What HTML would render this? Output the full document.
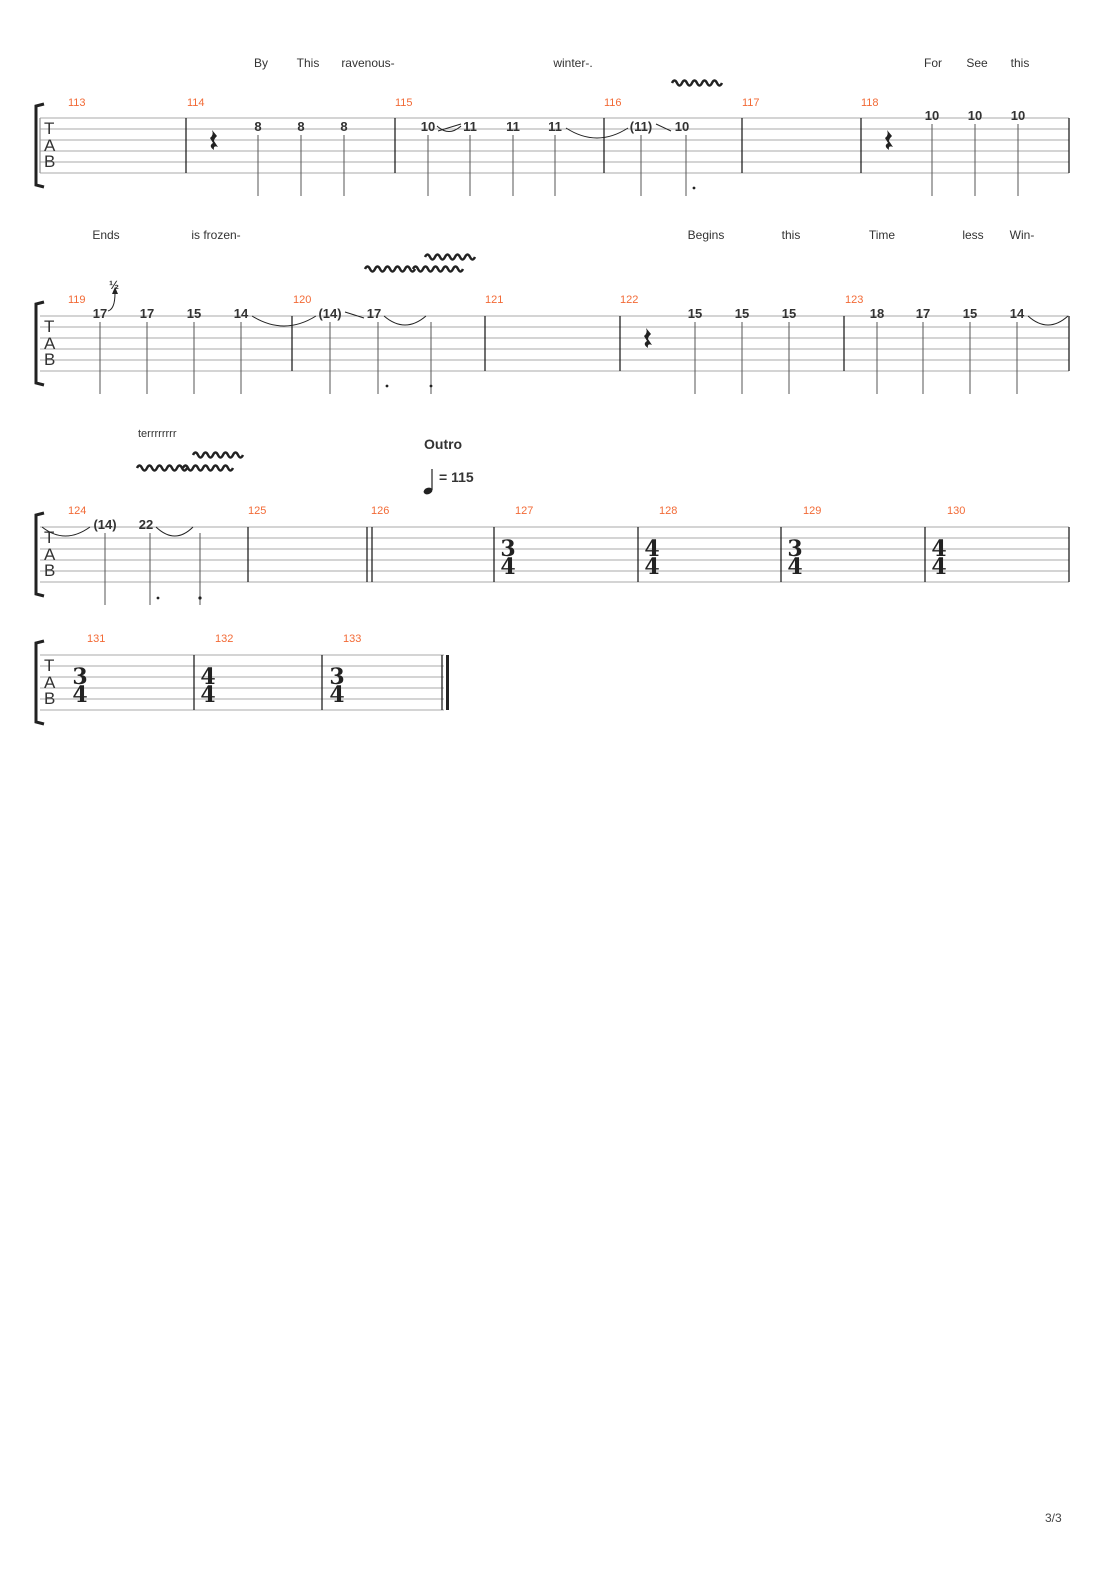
<!DOCTYPE html>
<html><head><meta charset="utf-8"><style>
body{margin:0;background:#fff}
svg text{font-family:"Liberation Sans","DejaVu Sans",sans-serif}
.ly{font-size:12px;fill:#333;text-anchor:middle}
.mn{font-size:11px;fill:#f26a36}
.n{font-size:13px;font-weight:bold;fill:#333;text-anchor:middle}
.ts{font-size:22px;font-weight:bold;fill:#222;font-family:"DejaVu Serif","Liberation Serif",serif;text-anchor:middle}
.tab{font-size:20px;fill:#333}
</style></head><body>
<svg width="1110" height="1570" viewBox="0 0 1110 1570" xmlns="http://www.w3.org/2000/svg">
<defs>
<g id="staff">
<g stroke="#aaa" stroke-width="1">
<line x1="40" y1="0" x2="1069" y2="0"/><line x1="40" y1="11" x2="1069" y2="11"/><line x1="40" y1="22" x2="1069" y2="22"/><line x1="40" y1="33" x2="1069" y2="33"/><line x1="40" y1="44" x2="1069" y2="44"/><line x1="40" y1="55" x2="1069" y2="55"/>
</g>
<path d="M44 -14 L36 -12 L36 67 L44 69" stroke="#222" stroke-width="3" fill="none"/>
<text class="tab" x="44" y="16" style="font-size:17px">T</text>
<text class="tab" x="44" y="33" style="font-size:17px">A</text>
<text class="tab" x="44" y="49" style="font-size:17px">B</text>
</g>
<path id="rest" d="M0 0 L5 6 Q2 9 2 11 L6 17 Q1 15 2 20 Q-4 16 1 13 L-2 8 Q2 5 0 0 Z" fill="#222"/>
<path id="vib" d="M0 2 q2.5 -5 5 0 t5 0 t5 0 t5 0 t5 0 t5 0 t5 0 t5 0 t5 0 t5 0" stroke="#222" stroke-width="2.5" fill="none"/>
</defs>

<!-- System 1 -->
<text class="ly" x="261" y="67">By</text><text class="ly" x="308" y="67">This</text><text class="ly" x="368" y="67">ravenous-</text><text class="ly" x="573" y="67">winter-.</text><text class="ly" x="933" y="67">For</text><text class="ly" x="977" y="67">See</text><text class="ly" x="1020" y="67">this</text>
<use href="#vib" x="672" y="81"/>
<g transform="translate(0,118)"><use href="#staff"/></g>
<g stroke="#222" stroke-width="1.3"><line x1="40" y1="118" x2="40" y2="173" stroke="#999"/><line x1="186" y1="118" x2="186" y2="173"/><line x1="395" y1="118" x2="395" y2="173"/><line x1="604" y1="118" x2="604" y2="173"/><line x1="742" y1="118" x2="742" y2="173"/><line x1="861" y1="118" x2="861" y2="173"/><line x1="1069" y1="118" x2="1069" y2="173"/></g>
<text class="mn" x="68" y="106">113</text><text class="mn" x="187" y="106">114</text><text class="mn" x="395" y="106">115</text><text class="mn" x="604" y="106">116</text><text class="mn" x="742" y="106">117</text><text class="mn" x="861" y="106">118</text>
<use href="#rest" x="212" y="130"/><use href="#rest" x="887" y="130"/>
<g stroke="#555" stroke-width="1"><line x1="258" y1="135" x2="258" y2="196"/><line x1="301" y1="135" x2="301" y2="196"/><line x1="344" y1="135" x2="344" y2="196"/><line x1="428" y1="135" x2="428" y2="196"/><line x1="470" y1="135" x2="470" y2="196"/><line x1="513" y1="135" x2="513" y2="196"/><line x1="555" y1="135" x2="555" y2="196"/><line x1="641" y1="135" x2="641" y2="196"/><line x1="686" y1="135" x2="686" y2="196"/><line x1="932" y1="124" x2="932" y2="196"/><line x1="975" y1="124" x2="975" y2="196"/><line x1="1018" y1="124" x2="1018" y2="196"/></g>
<circle cx="694" cy="188" r="1.4" fill="#222"/>
<text class="n" x="258" y="131">8</text><text class="n" x="301" y="131">8</text><text class="n" x="344" y="131">8</text><text class="n" x="428" y="131">10</text><text class="n" x="470" y="131">11</text><text class="n" x="513" y="131">11</text><text class="n" x="555" y="131">11</text><text class="n" x="641" y="131">(11)</text><text class="n" x="682" y="131">10</text><text class="n" x="932" y="120">10</text><text class="n" x="975" y="120">10</text><text class="n" x="1018" y="120">10</text>
<g stroke="#222" fill="none" stroke-width="1"><path d="M437 126 Q449 137 461 126"/><line x1="438" y1="131" x2="461" y2="124"/><path d="M566 128 Q597 148 628 128"/><line x1="656" y1="124" x2="671" y2="131"/></g>

<!-- System 2 -->
<text class="ly" x="106" y="239">Ends</text><text class="ly" x="216" y="239">is frozen-</text><text class="ly" x="706" y="239">Begins</text><text class="ly" x="791" y="239">this</text><text class="ly" x="882" y="239">Time</text><text class="ly" x="973" y="239">less</text><text class="ly" x="1022" y="239">Win-</text>
<use href="#vib" x="365" y="267"/><use href="#vib" x="413" y="267"/><use href="#vib" x="425" y="255"/>
<g transform="translate(0,316)"><use href="#staff"/></g>
<g stroke="#222" stroke-width="1.3"><line x1="292" y1="316" x2="292" y2="371"/><line x1="485" y1="316" x2="485" y2="371"/><line x1="620" y1="316" x2="620" y2="371"/><line x1="844" y1="316" x2="844" y2="371"/><line x1="1069" y1="316" x2="1069" y2="371"/></g>
<text class="mn" x="68" y="303">119</text><text class="mn" x="293" y="303">120</text><text class="mn" x="485" y="303">121</text><text class="mn" x="620" y="303">122</text><text class="mn" x="845" y="303">123</text>
<text x="109" y="289" style="font-size:12px;font-weight:bold;fill:#333">½</text>
<path d="M108 311 Q115 309 115 293" stroke="#222" fill="none"/><path d="M112 294 L115 287 L118 294 Z" fill="#222"/>
<use href="#rest" x="646" y="328"/>
<g stroke="#555" stroke-width="1"><line x1="100" y1="322" x2="100" y2="394"/><line x1="147" y1="322" x2="147" y2="394"/><line x1="194" y1="322" x2="194" y2="394"/><line x1="241" y1="322" x2="241" y2="394"/><line x1="330" y1="322" x2="330" y2="394"/><line x1="378" y1="322" x2="378" y2="394"/><line x1="431" y1="322" x2="431" y2="394"/><line x1="695" y1="322" x2="695" y2="394"/><line x1="742" y1="322" x2="742" y2="394"/><line x1="789" y1="322" x2="789" y2="394"/><line x1="877" y1="322" x2="877" y2="394"/><line x1="923" y1="322" x2="923" y2="394"/><line x1="970" y1="322" x2="970" y2="394"/><line x1="1017" y1="322" x2="1017" y2="394"/></g>
<circle cx="387" cy="386" r="1.4" fill="#222"/><circle cx="431" cy="386" r="1.4" fill="#222"/>
<text class="n" x="100" y="318">17</text><text class="n" x="147" y="318">17</text><text class="n" x="194" y="318">15</text><text class="n" x="241" y="318">14</text><text class="n" x="330" y="318">(14)</text><text class="n" x="374" y="318">17</text><text class="n" x="695" y="318">15</text><text class="n" x="742" y="318">15</text><text class="n" x="789" y="318">15</text><text class="n" x="877" y="318">18</text><text class="n" x="923" y="318">17</text><text class="n" x="970" y="318">15</text><text class="n" x="1017" y="318">14</text>
<g stroke="#222" fill="none" stroke-width="1"><path d="M252 316 Q284 336 316 316"/><line x1="345" y1="312" x2="364" y2="318"/><path d="M384 316 Q405 334 426 316"/><path d="M1028 316 Q1048 334 1068 316"/></g>

<!-- System 3 -->
<text x="138" y="437" style="font-size:11px;fill:#333">terrrrrrrr</text>
<use href="#vib" x="137" y="466"/><use href="#vib" x="183" y="466"/><use href="#vib" x="193" y="453"/>
<text x="424" y="449" style="font-size:14px;font-weight:bold;fill:#333">Outro</text>
<ellipse cx="428" cy="491" rx="4.5" ry="3.2" fill="#222" transform="rotate(-20 428 491)"/><line x1="432" y1="490" x2="432" y2="469" stroke="#222" stroke-width="1.2"/>
<text x="439" y="482" style="font-size:14px;font-weight:bold;fill:#333">= 115</text>
<g transform="translate(0,527)"><use href="#staff"/></g>
<g stroke="#222" stroke-width="1.3"><line x1="248" y1="527" x2="248" y2="582"/><line x1="367" y1="527" x2="367" y2="582"/><line x1="372" y1="527" x2="372" y2="582"/><line x1="494" y1="527" x2="494" y2="582"/><line x1="638" y1="527" x2="638" y2="582"/><line x1="781" y1="527" x2="781" y2="582"/><line x1="925" y1="527" x2="925" y2="582"/><line x1="1069" y1="527" x2="1069" y2="582"/></g>
<text class="mn" x="68" y="514">124</text><text class="mn" x="248" y="514">125</text><text class="mn" x="371" y="514">126</text><text class="mn" x="515" y="514">127</text><text class="mn" x="659" y="514">128</text><text class="mn" x="803" y="514">129</text><text class="mn" x="947" y="514">130</text>
<g stroke="#555" stroke-width="1"><line x1="105" y1="533" x2="105" y2="605"/><line x1="150" y1="533" x2="150" y2="605"/><line x1="200" y1="533" x2="200" y2="605"/></g>
<circle cx="158" cy="598" r="1.4" fill="#222"/><circle cx="200" cy="598" r="1.6" fill="#222"/>
<text class="n" x="105" y="529">(14)</text><text class="n" x="146" y="529">22</text>
<g stroke="#222" fill="none" stroke-width="1"><path d="M42 527 Q65 545 90 527"/><path d="M156 527 Q175 545 193 527"/></g>
<text class="ts" x="508" y="556">3</text><text class="ts" x="508" y="574">4</text>
<text class="ts" x="652" y="556">4</text><text class="ts" x="652" y="574">4</text>
<text class="ts" x="795" y="556">3</text><text class="ts" x="795" y="574">4</text>
<text class="ts" x="939" y="556">4</text><text class="ts" x="939" y="574">4</text>

<!-- System 4 -->
<g transform="translate(0,655)"><use href="#staff"/></g>
<rect x="444" y="640" width="700" height="90" fill="#fff"/>
<g stroke="#222" stroke-width="1.3"><line x1="194" y1="655" x2="194" y2="710"/><line x1="322" y1="655" x2="322" y2="710"/><line x1="442" y1="655" x2="442" y2="710"/></g>
<rect x="446" y="655" width="3" height="55" fill="#222"/>
<text class="mn" x="87" y="642">131</text><text class="mn" x="215" y="642">132</text><text class="mn" x="343" y="642">133</text>
<text class="ts" x="80" y="684">3</text><text class="ts" x="80" y="702">4</text>
<text class="ts" x="208" y="684">4</text><text class="ts" x="208" y="702">4</text>
<text class="ts" x="337" y="684">3</text><text class="ts" x="337" y="702">4</text>

<text x="1045" y="1522" style="font-size:12px;fill:#444">3/3</text>
</svg>
</body></html>
